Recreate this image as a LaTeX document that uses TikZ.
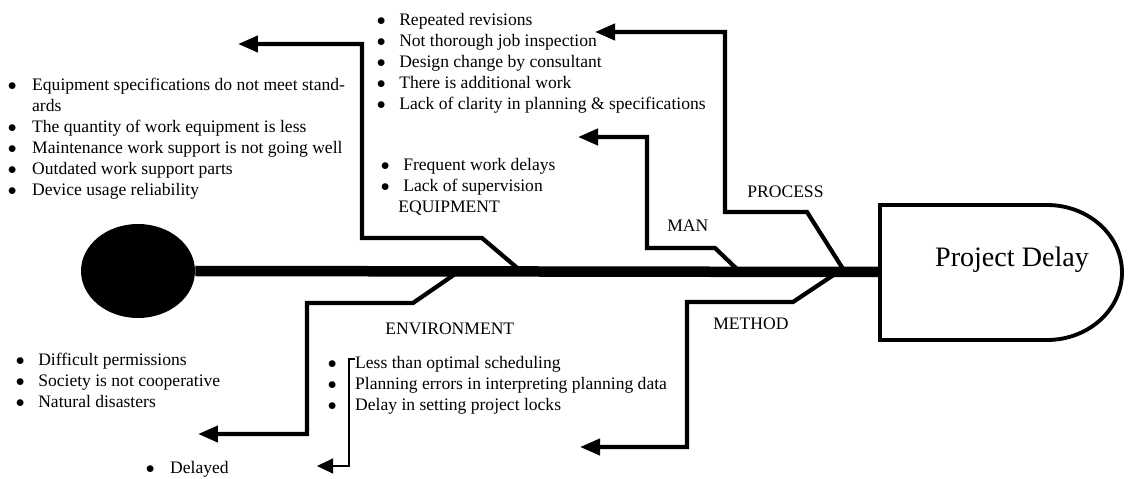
\documentclass[tikz,border=0pt]{standalone}
\usepackage{fontspec}
\setmainfont{Liberation Serif}
\usetikzlibrary{arrows.meta,shapes.geometric}

\newcommand{\bul}{$\bullet$}

\begin{document}
\begin{tikzpicture}[x=0.02cm,y=-0.02cm,
    bone/.style={line width=2.4pt,-{Triangle[length=0.4cm,width=0.32cm]}},
    thinbone/.style={line width=0.6pt,-{Triangle[length=0.32cm,width=0.3cm]}},
    spine/.style={line width=0.21cm},
    causes/.style={anchor=north west,inner sep=0pt,font=\fontsize{10}{12}\selectfont},
    category/.style={anchor=west,inner sep=0pt,font=\fontsize{10}{12}\selectfont},
    ]
  \useasboundingbox (0,0) rectangle (1129,479);

  % tail and head of the fish
  \node[ellipse,fill,minimum width=2.28cm,minimum height=1.88cm,inner sep=0pt] (tail) at (138,271) {};
  \coordinate (headwest) at (880,272);
  \draw[line width=2.2pt] (880,205) -- (1047,205)
    arc[start angle=-90,end angle=90,x radius=75,y radius=67.5] -- (880,340) -- cycle;
  \node[inner sep=0pt,font=\fontsize{16}{19}\selectfont] (effect) at (1012,260) {Project Delay};

  % bone joints and arrow ends
  \coordinate (equip0) at (522,272); \coordinate (equipend) at (238,44);
  \coordinate (man0) at (740,272);   \coordinate (manend) at (578,137);
  \coordinate (proc0) at (845,272);  \coordinate (procend) at (595,32);
  \coordinate (env0) at (458,272);   \coordinate (envend) at (198,434);
  \coordinate (meth0) at (838,272);  \coordinate (methend) at (580,447);
  \coordinate (delay0) at (355,359); \coordinate (delayend) at (317,466);

  \draw[bone] (equip0) -- (482,238) -- (362,238) -- (362,44) -- (equipend);
  \draw[bone] (man0) -- (715,248) -- (647,248) -- (647,137) -- (manend);
  \draw[bone] (proc0) -- (807,212) -- (725,212) -- (725,32) -- (procend);
  \draw[bone] (env0) -- (413,303) -- (307,303) -- (307,434) -- (envend);
  \draw[bone] (meth0) -- (793,302) -- (687,302) -- (687,447) -- (methend);
  \draw[thinbone] (delay0) -- (349,359) -- (349,466) -- (delayend);

  \draw[spine] (tail.east) -- (headwest);

  % categories
  \node[category] (equip) at (398,208) {EQUIPMENT};
  \node[category] (man) at (667,226) {MAN};
  \node[category] (proc) at (747,192) {PROCESS};
  \node[category] (env) at (385,329) {ENVIRONMENT};
  \node[category] (meth) at (713,324) {METHOD};

  % causes
  \node[causes] (equiplist) at (7.6,75) {\begin{tabular}{@{}l@{\hspace{8.8pt}}l@{}}
    \bul & Equipment specifications do not meet stand-\\
     & ards\\
    \bul & The quantity of work equipment is less\\
    \bul & Maintenance work support is not going well\\
    \bul & Outdated work support parts\\
    \bul & Device usage reliability
  \end{tabular}};
  \node[causes] (proclist) at (376.6,10) {\begin{tabular}{@{}l@{\hspace{7.7pt}}l@{}}
    \bul & Repeated revisions\\
    \bul & Not thorough job inspection\\
    \bul & Design change by consultant\\
    \bul & There is additional work\\
    \bul & Lack of clarity in planning \& specifications
  \end{tabular}};
  \node[causes] (manlist) at (380.6,155) {\begin{tabular}{@{}l@{\hspace{7.7pt}}l@{}}
    \bul & Frequent work delays\\
    \bul & Lack of supervision
  \end{tabular}};
  \node[causes] (envlist) at (15.6,350) {\begin{tabular}{@{}l@{\hspace{7.7pt}}l@{}}
    \bul & Difficult permissions\\
    \bul & Society is not cooperative\\
    \bul & Natural disasters
  \end{tabular}};
  \node[causes] (methlist) at (327.6,353) {\begin{tabular}{@{}l@{\hspace{10.5pt}}l@{}}
    \bul & Less than optimal scheduling\\
    \bul & Planning errors in interpreting planning data\\
    \bul & Delay in setting project locks
  \end{tabular}};
  \node[causes] (delaylist) at (145.6,458) {\begin{tabular}{@{}l@{\hspace{8.8pt}}l@{}}
    \bul & Delayed
  \end{tabular}};
\end{tikzpicture}
\end{document}
